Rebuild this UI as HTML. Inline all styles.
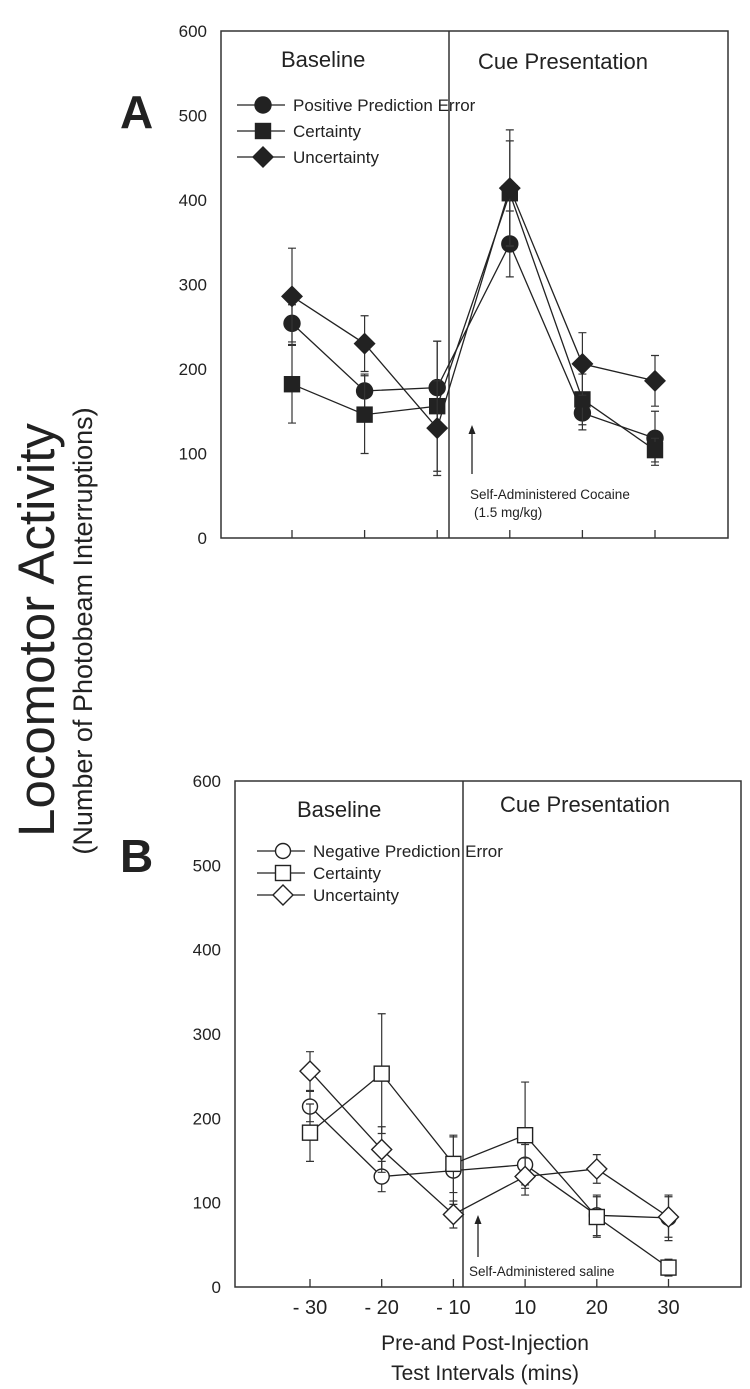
<!DOCTYPE html>
<html><head><meta charset="utf-8"><style>
html,body{margin:0;padding:0;background:#fff;}
svg{display:block;font-family:"Liberation Sans",Arial,sans-serif;}
</style></head><body>
<svg id="chart" width="750" height="1389" viewBox="0 0 750 1389" xmlns="http://www.w3.org/2000/svg">
<g id="static" fill="#222">
  <text transform="translate(54,630) rotate(-90)" text-anchor="middle" font-size="51">Locomotor Activity</text>
  <text transform="translate(92,631) rotate(-90)" text-anchor="middle" font-size="27">(Number of Photobeam Interruptions)</text>
  <text x="120" y="128" font-size="46" font-weight="bold">A</text>
  <text x="120" y="872" font-size="46" font-weight="bold">B</text>
  <text x="485" y="1350" text-anchor="middle" font-size="21">Pre-and Post-Injection</text>
  <text x="485" y="1380" text-anchor="middle" font-size="21">Test Intervals (mins)</text>
</g>
<g id="plots"></g>
</svg>
<script>
const xCats = ["- 30","- 20","- 10","10","20","30"];
const yTicks = [0,100,200,300,400,500,600];
// Panel A
const aPPE = [254,174,178,348,148,118];
const aPPEerr = [22,20,55,39,20,32];
const aCert = [182,146,156,408,164,104];
const aCertErr = [46,46,77,62,30,14];
const aUnc = [286,230,130,414,206,186];
const aUncErr = [57,33,56,69,37,30];
// Panel B
const bNPE = [214,131,138,145,85,82];
const bNPEerr = [18,18,40,24,24,27];
const bCert = [183,253,146,180,83,23];
const bCertErr = [34,71,34,63,24,10];
const bUnc = [256,163,86,131,140,83];
const bUncErr = [23,27,16,22,17,24];

const NS="http://www.w3.org/2000/svg";
const root=document.getElementById('plots');
function mk(tag,attrs,parent){const e=document.createElementNS(NS,tag);for(const k in attrs)e.setAttribute(k,attrs[k]);(parent||root).appendChild(e);return e;}

function panel(cfg){
  const g=mk('g',{});
  
  
  const xs=i=>cfg.x0+i*cfg.dx;
  const ys=v=>cfg.bottom-(v/600)*(cfg.bottom-cfg.top);
  const frame=mk('rect',{x:cfg.left,y:cfg.top,width:cfg.right-cfg.left,height:cfg.bottom-cfg.top,fill:'none',stroke:'#333','stroke-width':1.5},g);
  
  
  const div=mk('line',{x1:cfg.divX,x2:cfg.divX,y1:cfg.top,y2:cfg.bottom,stroke:'#333','stroke-width':1.5},g);
  
  
  yTicks.forEach(t=>{
    const tl=mk('text',{x:cfg.left-14,y:ys(t)+6,'text-anchor':'end','font-size':17,fill:'#222'},g);
    tl.textContent=t;
    
    
  });
  xCats.forEach((c,i)=>{
    const tk=mk('line',{x1:xs(i),x2:xs(i),y1:cfg.bottom,y2:cfg.bottom-8,stroke:'#333','stroke-width':1.3},g);
    
    
    if(cfg.showX){
      const tl=mk('text',{x:xs(i),y:cfg.bottom+27,'text-anchor':'middle','font-size':20,fill:'#222'},g);
      tl.textContent=c;
      
      
    }
  });
  const t1=mk('text',{x:cfg.baseX,y:cfg.baseY,'font-size':22,fill:'#222'},g);t1.textContent='Baseline';
  
  
  const t2=mk('text',{x:cfg.cueX,y:cfg.cueY,'font-size':22,fill:'#222'},g);t2.textContent='Cue Presentation';
  
  
  const ar=mk('line',{x1:cfg.arX,x2:cfg.arX,y1:cfg.arY1,y2:cfg.arY2+4,stroke:'#222','stroke-width':1.3},g);
  
  
  mk('path',{d:`M${cfg.arX-3.5},${cfg.arY2+9} L${cfg.arX},${cfg.arY2} L${cfg.arX+3.5},${cfg.arY2+9} Z`,fill:'#222'},g);
  cfg.note.forEach((n,k)=>{
    const nt=mk('text',{x:n[0],y:n[1],'font-size':13.5,fill:'#222'},g);nt.textContent=n[2];
    
    
  });
  const fill=cfg.filled?'#222':'#fff';
  function marker(type,x,y,parent){
    let e;
    if(type==='circle') e=mk('circle',{cx:x,cy:y,r:cfg.filled?8:7.5,fill:fill,stroke:'#222','stroke-width':1.4},parent);
    else if(type==='square') e=mk('rect',{x:x-7.5,y:y-7.5,width:15,height:15,fill:fill,stroke:'#222','stroke-width':1.4},parent);
    else e=mk('path',{d:`M${x},${y-10} L${x+10},${y} L${x},${y+10} L${x-10},${y} Z`,fill:fill,stroke:'#222','stroke-width':1.4},parent);
    return e;
  }
  cfg.series.forEach(s=>{
    const sg=mk('g',{},g);
    
    
    s.vals.forEach((v,i)=>{
      const e=s.err[i],x=xs(i);
      const eb=mk('path',{d:`M${x},${ys(v+e)} L${x},${ys(v-e)} M${x-4},${ys(v+e)} L${x+4},${ys(v+e)} M${x-4},${ys(v-e)} L${x+4},${ys(v-e)}`,stroke:'#333','stroke-width':1.2,fill:'none'},sg);
      
      
    });
    const ln=mk('polyline',{points:s.vals.map((v,i)=>xs(i)+','+ys(v)).join(' '),fill:'none',stroke:'#222','stroke-width':1.3},sg);
    
    
    s.vals.forEach((v,i)=>{
      const m=marker(s.type,xs(i),ys(v),sg);
      
      
    });
  });
  cfg.series.forEach((s,k)=>{
    const y=cfg.legY+k*cfg.legDy;
    const lg=mk('g',{},g);
    
    
    mk('line',{x1:cfg.legX,x2:cfg.legX+48,y1:y,y2:y,stroke:'#222','stroke-width':1.3},lg);
    marker(s.type,cfg.legX+26,y,lg);
    const lt=mk('text',{x:cfg.legX+56,y:y+6,'font-size':17,fill:'#222'},lg);lt.textContent=s.label;
  });
}

panel({name:'panel-a-chart',left:221,right:728,top:31,bottom:538,x0:292,dx:72.6,divX:449,filled:true,showX:false,
  baseX:281,baseY:67,cueX:478,cueY:69,arX:472,arY1:474,arY2:425,
  note:[[470,499,'Self-Administered Cocaine'],[474,517,'(1.5 mg/kg)']],
  legX:237,legY:105,legDy:26,
  series:[{name:'series-positive-prediction-error',label:'Positive Prediction  Error',type:'circle',vals:aPPE,err:aPPEerr},
          {name:'series-certainty-a',label:'Certainty',type:'square',vals:aCert,err:aCertErr},
          {name:'series-uncertainty-a',label:'Uncertainty',type:'diamond',vals:aUnc,err:aUncErr}]});
panel({name:'panel-b-chart',left:235,right:741,top:781,bottom:1287,x0:310,dx:71.7,divX:463,filled:false,showX:true,
  baseX:297,baseY:817,cueX:500,cueY:812,arX:478,arY1:1257,arY2:1215,
  note:[[469,1276,'Self-Administered saline']],
  legX:257,legY:851,legDy:22,
  series:[{name:'series-negative-prediction-error',label:'Negative Prediction Error',type:'circle',vals:bNPE,err:bNPEerr},
          {name:'series-certainty-b',label:'Certainty',type:'square',vals:bCert,err:bCertErr},
          {name:'series-uncertainty-b',label:'Uncertainty',type:'diamond',vals:bUnc,err:bUncErr}]});
</script>
</body></html>
